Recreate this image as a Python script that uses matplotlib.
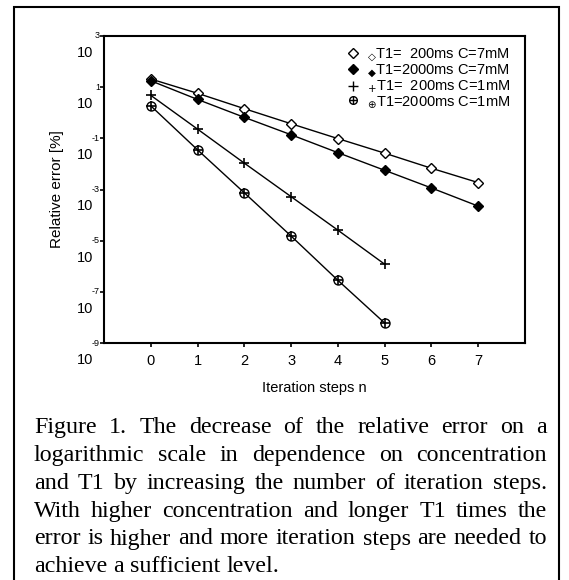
import matplotlib
matplotlib.use("Agg")
import matplotlib.pyplot as plt
from matplotlib.patches import Rectangle
from matplotlib.lines import Line2D
import numpy as np

# Data (log10 of relative error [%])
steps_7mM = [0, 1, 2, 3, 4, 5, 6, 7]
steps_1mM = [0, 1, 2, 3, 4, 5]
log_t200_c7 = [1.32, 0.76, 0.16, -0.43, -1.01, -1.58, -2.17, -2.73]
log_t2000_c7 = [1.25, 0.52, -0.18, -0.86, -1.56, -2.25, -2.94, -3.65]
log_t200_c1 = [0.68, -0.64, -1.97, -3.28, -4.59, -5.92]
log_t2000_c1 = [0.27, -1.45, -3.13, -4.82, -6.55, -8.22]

labels = [r"$_{◇}$T1=  200ms C=7mM",
          r"$_{◆}$T1=2000ms C=7mM",
          r"$_{+}$T1=  200ms C=1mM",
          r"$_{⊕}$T1=2000ms C=1mM"]

y_exponents = [3, 1, -1, -3, -5, -7, -9]
x_ticks = [0, 1, 2, 3, 4, 5, 6, 7]

caption = [
    "Figure 1. The decrease of the relative error on a",
    "logarithmic scale in dependence on concentration",
    "and T1 by increasing the number of iteration steps.",
    "With higher concentration and longer T1 times the",
    "error is higher and more iteration steps are needed to",
    "achieve a sufficient level.",
]

SANS = ["Liberation Sans", "DejaVu Sans"]
SERIF = ["Liberation Serif", "DejaVu Serif"]
plt.rcParams["font.family"] = SANS

W, H = 569, 580
fig = plt.figure(figsize=(W / 100, H / 100), dpi=100)
ax = fig.add_axes([104 / W, 1 - 343 / H, (525 - 104) / W, (343 - 36) / H])

lw = 1.0
ax.plot(steps_7mM, 10.0 ** np.array(log_t200_c7), "k-", lw=lw, marker="D",
        ms=5.5, mfc="white", mec="black", mew=1.0)
ax.plot(steps_7mM, 10.0 ** np.array(log_t2000_c7), "k-", lw=lw, marker="D",
        ms=5.5, mfc="black", mec="black")
ax.plot(steps_1mM, 10.0 ** np.array(log_t200_c1), "k-", lw=lw, marker="+",
        ms=7.5, mew=1.2)
ax.plot(steps_1mM, 10.0 ** np.array(log_t2000_c1), "k-", lw=lw, marker="o",
        ms=6.5, mfc="none", mec="black", mew=1.0)
ax.plot(steps_1mM, 10.0 ** np.array(log_t2000_c1), ls="none", marker="+",
        ms=7.5, mew=1.2, color="black")

ax.set_yscale("log")
ax.set_xlim(-1, 8)
ax.set_ylim(1e-9, 1e3)
ax.set_xticks(x_ticks)
ax.set_xticklabels([str(v) for v in x_ticks], fontsize=10.5)
ax.set_yticks([10.0 ** e for e in y_exponents])
ax.set_yticklabels([])
ax.yaxis.set_minor_locator(matplotlib.ticker.NullLocator())
ax.tick_params(direction="out", length=3, width=1.2, pad=5)
for s in ax.spines.values():
    s.set_linewidth(1.5)

for e in y_exponents:
    ax.annotate(str(e), xy=(0, 10.0 ** e), xycoords=("axes fraction", "data"),
                xytext=(-4, 0), textcoords="offset pixels",
                ha="right", va="center", fontsize=6.5)
    ax.annotate("10", xy=(0, 10.0 ** e), xycoords=("axes fraction", "data"),
                xytext=(-19, -17), textcoords="offset pixels",
                ha="center", va="center", fontsize=10.5)

ax.set_xlabel("Iteration steps n", fontsize=10.5, labelpad=9)
ax.set_ylabel("Relative error [%]", fontsize=11, labelpad=21)

# legend: marker handle plus symbol in label
h1 = Line2D([], [], ls="none", marker="D", ms=5, mfc="white", mec="black")
h2 = Line2D([], [], ls="none", marker="D", ms=5, mfc="black", mec="black")
h3 = Line2D([], [], ls="none", marker="+", ms=7, mew=1.0, color="black")
h4a = Line2D([], [], ls="none", marker="o", ms=5.5, mfc="none", mec="black")
h4b = Line2D([], [], ls="none", marker="+", ms=6, mew=1.0, color="black")
ax.legend([h1, h2, h3, (h4a, h4b)], labels, loc="upper right",
          bbox_to_anchor=(0.965, 0.967), frameon=False, fontsize=10.5,
          handlelength=1.0, handletextpad=0.45, labelspacing=-0.1,
          borderpad=0, borderaxespad=0)

# outer frame
fig.add_artist(Rectangle((14 / W, -0.02), (559 - 14) / W, 1.02 - 7 / H,
                         transform=fig.transFigure, fill=False,
                         lw=1.5, ec="black"))

# justified caption
renderer = fig.canvas.get_renderer()
x0, x1 = 34, 547
baselines = [433, 461, 489, 517, 544.5, 572]
for i, (line, yb) in enumerate(zip(caption, baselines)):
    words = line.split()
    texts = [fig.text(0, 1 - yb / H, w, fontsize=17.3, family=SERIF,
                      va="baseline", ha="left") for w in words]
    widths = [t.get_window_extent(renderer).width for t in texts]
    if i == len(caption) - 1:
        space = texts[0].get_fontsize() * 0.25 * 100 / 72
    else:
        space = (x1 - x0 - sum(widths)) / (len(words) - 1)
    x = x0
    for t, wd in zip(texts, widths):
        t.set_x(x / W)
        x += wd + space

fig.savefig("out.png", dpi=100)
